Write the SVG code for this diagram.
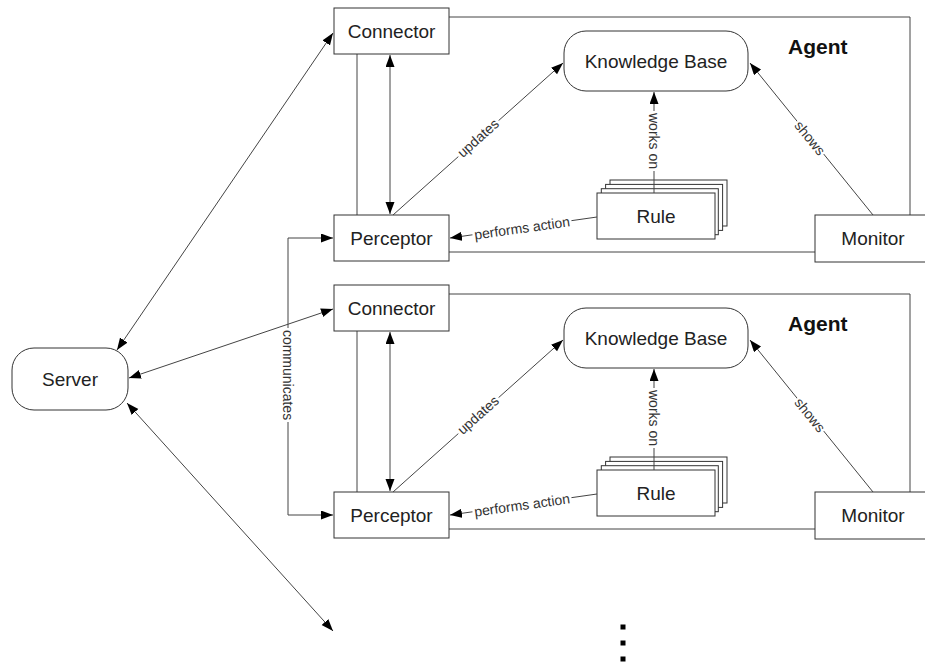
<svg xmlns="http://www.w3.org/2000/svg" width="925" height="663" viewBox="0 0 925 663">
<style>
.box{fill:#fff;stroke:#333;stroke-width:1}
.ln{fill:none;stroke:#444;stroke-width:1}
.t{font-family:"Liberation Sans",Arial,sans-serif;font-size:19px;fill:#222;text-anchor:middle}
.ag{font-family:"Liberation Sans",Arial,sans-serif;font-size:21px;font-weight:bold;fill:#111}
.lb{font-family:"Liberation Sans",Arial,sans-serif;font-size:14px;fill:#333;text-anchor:middle}
.bg{fill:#fff}
.arr{marker-end:url(#ah)}
.dbl{marker-start:url(#ah);marker-end:url(#ah)}
</style>
<defs>
<marker id="ah" markerUnits="userSpaceOnUse" markerWidth="13" markerHeight="10" refX="12" refY="4.5" orient="auto-start-reverse">
<path d="M0,0 L12,4.5 L0,9 Z" fill="#000"/>
</marker>
<g id="agentTpl">
</g>
</defs>
<rect width="925" height="663" fill="#fff"/>

<g id="server"><rect class="box" x="12" y="348" width="116" height="62" rx="22"/><text class="t" x="70" y="386">Server</text></g>

<g id="agent1">
<g id="a1-border"><polyline class="ln" points="449,17 910,17 910,215"/><line class="ln" x1="449" y1="252" x2="815" y2="252"/><line class="ln" x1="357" y1="54" x2="357" y2="215"/></g>
<text class="ag" x="788" y="54">Agent</text>
<g id="a1-connector"><rect class="box" x="334" y="8" width="115" height="46"/><text class="t" x="391.5" y="38">Connector</text></g>
<g id="a1-perceptor"><rect class="box" x="334" y="215" width="115" height="46"/><text class="t" x="391.5" y="245">Perceptor</text></g>
<g id="a1-kb"><rect class="box" x="564" y="31" width="184" height="60" rx="22"/><text class="t" x="656" y="68">Knowledge Base</text></g>
<g id="a1-rule"><rect class="box" x="610" y="180" width="117" height="46"/><rect class="box" x="605.6" y="184.4" width="117" height="46"/><rect class="box" x="601.3" y="188.7" width="117" height="46"/><rect class="box" x="597" y="193" width="118" height="46"/><text class="t" x="656" y="223">Rule</text></g>
<g id="a1-monitor"><rect class="box" x="815" y="215" width="130" height="47"/><text class="t" x="873" y="245">Monitor</text></g>
</g>

<g id="agent2">
<g id="a2-border"><polyline class="ln" points="449,294 910,294 910,492"/><line class="ln" x1="449" y1="529" x2="815" y2="529"/><line class="ln" x1="357" y1="331" x2="357" y2="492"/></g>
<text class="ag" x="788" y="331">Agent</text>
<g id="a2-connector"><rect class="box" x="334" y="285" width="115" height="46"/><text class="t" x="391.5" y="315">Connector</text></g>
<g id="a2-perceptor"><rect class="box" x="334" y="492" width="115" height="46"/><text class="t" x="391.5" y="522">Perceptor</text></g>
<g id="a2-kb"><rect class="box" x="564" y="308" width="184" height="60" rx="22"/><text class="t" x="656" y="345">Knowledge Base</text></g>
<g id="a2-rule"><rect class="box" x="610" y="457" width="117" height="46"/><rect class="box" x="605.6" y="461.4" width="117" height="46"/><rect class="box" x="601.3" y="465.7" width="117" height="46"/><rect class="box" x="597" y="470" width="118" height="46"/><text class="t" x="656" y="500">Rule</text></g>
<g id="a2-monitor"><rect class="box" x="815" y="492" width="130" height="47"/><text class="t" x="873" y="522">Monitor</text></g>
</g>

<g id="connectors">
<line class="ln dbl" x1="117" y1="350" x2="333" y2="33"/>
<line class="ln dbl" x1="129" y1="378" x2="333" y2="309"/>
<line class="ln dbl" x1="127" y1="403" x2="333" y2="631"/>
<polyline class="ln dbl" points="333,238 288,238 288,515 333,515"/>
<g transform="translate(288,375) rotate(90)"><rect class="bg" x="-47" y="-7" width="94" height="14"/><text class="lb" x="0" y="5">communicates</text></g>

<!-- agent 1 -->
<line class="ln dbl" x1="390" y1="55" x2="390" y2="214"/>
<line class="ln arr" x1="393" y1="215" x2="563" y2="63"/>
<g transform="translate(478,138) rotate(-41.8)"><rect class="bg" x="-27" y="-7" width="54" height="14"/><text class="lb" x="0" y="5">updates</text></g>
<line class="ln arr" x1="654" y1="193" x2="654" y2="92"/>
<g transform="translate(654,141) rotate(90)"><rect class="bg" x="-30" y="-7" width="60" height="14"/><text class="lb" x="0" y="5">works on</text></g>
<line class="ln arr" x1="597" y1="217" x2="450" y2="238"/>
<g transform="translate(522,228) rotate(-8)"><rect class="bg" x="-50" y="-7" width="100" height="14"/><text class="lb" x="0" y="5">performs action</text></g>
<line class="ln arr" x1="873" y1="215" x2="750" y2="63"/>
<g transform="translate(810,138) rotate(51)"><rect class="bg" x="-21" y="-7" width="42" height="14"/><text class="lb" x="0" y="5">shows</text></g>

<!-- agent 2 -->
<line class="ln dbl" x1="390" y1="332" x2="390" y2="491"/>
<line class="ln arr" x1="393" y1="492" x2="563" y2="340"/>
<g transform="translate(478,415) rotate(-41.8)"><rect class="bg" x="-27" y="-7" width="54" height="14"/><text class="lb" x="0" y="5">updates</text></g>
<line class="ln arr" x1="654" y1="470" x2="654" y2="369"/>
<g transform="translate(654,418) rotate(90)"><rect class="bg" x="-30" y="-7" width="60" height="14"/><text class="lb" x="0" y="5">works on</text></g>
<line class="ln arr" x1="597" y1="494" x2="450" y2="515"/>
<g transform="translate(522,505) rotate(-8)"><rect class="bg" x="-50" y="-7" width="100" height="14"/><text class="lb" x="0" y="5">performs action</text></g>
<line class="ln arr" x1="873" y1="492" x2="750" y2="340"/>
<g transform="translate(810,415) rotate(51)"><rect class="bg" x="-21" y="-7" width="42" height="14"/><text class="lb" x="0" y="5">shows</text></g>
</g>

<g id="ellipsis" fill="#000">
<rect x="620.5" y="624.5" width="5" height="5"/>
<rect x="620.5" y="640.5" width="5" height="5"/>
<rect x="620.5" y="656.5" width="5" height="5"/>
</g>
</svg>
